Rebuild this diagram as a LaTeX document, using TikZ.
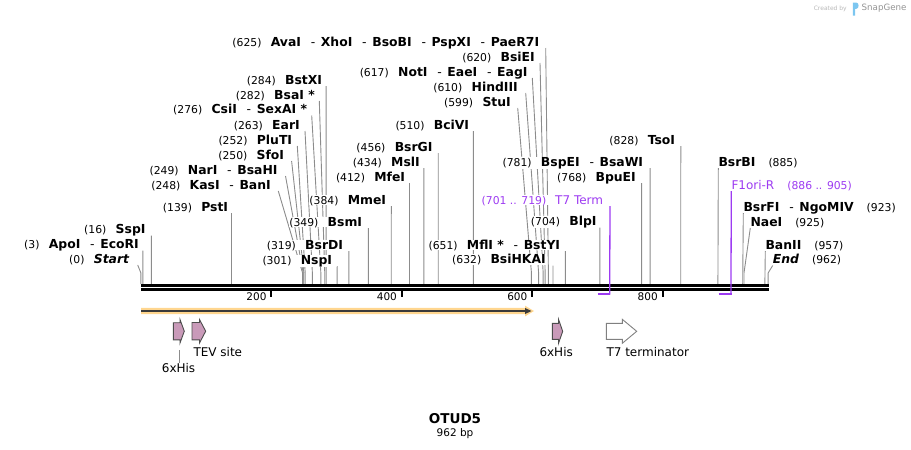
\documentclass[tikz,border=0pt]{standalone}
\usepackage{fontspec}
\setmainfont{DejaVu Sans}
\usetikzlibrary{calc,backgrounds}
\definecolor{LeadGray}{HTML}{8C8C8C}
\definecolor{FeatPink}{HTML}{C99AB9}
\definecolor{FeatEdge}{HTML}{4D4D4D}
\definecolor{TermEdge}{HTML}{808080}
\definecolor{OrfGlow}{HTML}{FFD68F}
\definecolor{OrfDark}{HTML}{3A3A3A}
\definecolor{PrimerPurple}{HTML}{9D3BF2}
\definecolor{LogoBlue}{HTML}{7CC6F0}
\newcommand{\numfont}{\fontsize{10.8}{12}\selectfont}
\newcommand{\enzpos}[1]{{\mdseries\numfont(#1)}\hspace{9.3pt}}% number before the name
\newcommand{\posenz}[1]{\hspace{13pt}{\mdseries\numfont(#1)}}% number after the name
\newcommand{\enzsep}{\hspace{9.8pt}{\mdseries -}\hspace{5.6pt}}
\newcommand{\sitex}[1]{140.9+0.652*#1}% bp -> x
\tikzset{
  enz/.style      = {inner sep=0pt, fill=white, font=\fontsize{12.4}{14}\selectfont\bfseries, anchor=base east},
  enzr/.style     = {enz, anchor=base west},
  lead/.style     = {draw=LeadGray, line width=0.9pt},
  backbone/.style = {draw=black, line width=2.7pt},
  tick/.style     = {draw=black, line width=2pt},
  ticklbl/.style  = {inner sep=0pt, font=\fontsize{10.5}{12}\selectfont, anchor=base east},
  feat/.style     = {draw=FeatEdge, fill=FeatPink, line width=0.9pt},
  term/.style     = {draw=TermEdge, fill=white, line width=0.9pt},
  featlbl/.style  = {inner sep=0pt, font=\fontsize{12}{14}\selectfont, anchor=base west},
  primerv/.style  = {draw=PrimerPurple, line width=1.3pt},
  primerh/.style  = {draw=PrimerPurple, line width=2pt},
}
\begin{document}
\begin{tikzpicture}[x=1pt, y=-1pt]
  \useasboundingbox (0,0) rectangle (911,450);

  % enzimas a la izquierda del corte
  \node[enz] (avai) at (539.3,46) {\enzpos{625}AvaI\enzsep XhoI\enzsep BsoBI\enzsep PspXI\enzsep PaeR7I};
  \node[enz] (bsiei) at (535,61) {\enzpos{620}BsiEI};
  \node[enz] (noti) at (527.7,76) {\enzpos{617}NotI\enzsep EaeI\enzsep EagI};
  \node[enz] (hindiii) at (518,91) {\enzpos{610}HindIII};
  \node[enz] (stui) at (511,106) {\enzpos{599}StuI};
  \node[enz] (bcivi) at (469.3,129) {\enzpos{510}BciVI};
  \node[enz] (bsrgi) at (432.7,151) {\enzpos{456}BsrGI};
  \node[enz] (msli) at (420,166) {\enzpos{434}MslI};
  \node[enz] (mfei) at (405.3,181) {\enzpos{412}MfeI};
  \node[enz] (mmei) at (386.3,204) {\enzpos{384}MmeI};
  \node[enz] (bsmi) at (362.3,226) {\enzpos{349}BsmI};
  \node[enz] (bsrdi) at (343.3,249) {\enzpos{319}BsrDI};
  \node[enz] (nspi) at (332.3,264) {\enzpos{301}NspI};
  \node[enz] (bstxi) at (322.3,84) {\enzpos{284}BstXI};
  \node[enz] (bsai) at (315,99) {\enzpos{282}BsaI *};
  \node[enz] (csii) at (307.3,113.5) {\enzpos{276}CsiI\enzsep SexAI *};
  \node[enz] (eari) at (300,129) {\enzpos{263}EarI};
  \node[enz] (pluti) at (292.3,144) {\enzpos{252}PluTI};
  \node[enz] (sfoi) at (284.3,159) {\enzpos{250}SfoI};
  \node[enz] (nari) at (277.7,174) {\enzpos{249}NarI\enzsep BsaHI};
  \node[enz] (kasi) at (271,189) {\enzpos{248}KasI\enzsep BanI};
  \node[enz] (psti) at (228.3,211) {\enzpos{139}PstI};
  \node[enz] (sspi) at (145.7,233.5) {\enzpos{16}SspI};
  \node[enz] (apoi) at (139,248.5) {\enzpos{3}ApoI\enzsep EcoRI};
  \node[enz] (start) at (129.3,263) {\enzpos{0}{\itshape Start}};
  \node[enz] (mfli) at (560.3,249) {\enzpos{651}MflI *\enzsep BstYI};
  \node[enz] (bsihkai) at (546,263.5) {\enzpos{632}BsiHKAI};
  \node[enz] (bspei) at (643.3,166) {\enzpos{781}BspEI\enzsep BsaWI};
  \node[enz] (bpuei) at (636,181) {\enzpos{768}BpuEI};
  \node[enz] (blpi) at (596.7,225.5) {\enzpos{704}BlpI};
  \node[enz] (tsoi) at (675.3,144) {\enzpos{828}TsoI};
  % enzimas a la derecha del corte
  \node[enzr] (bsrbi) at (718.3,166) {BsrBI\posenz{885}};
  \node[enzr] (bsrfi) at (743.3,211) {BsrFI\enzsep NgoMIV\posenz{923}};
  \node[enzr] (naei) at (750.3,226) {NaeI\posenz{925}};
  \node[enzr] (banii) at (765.3,249) {BanII\posenz{957}};
  \node[enzr] (end) at (772.7,263.5) {{\itshape End}\posenz{962}};
  % cebadores
  \node[enz, font=\fontsize{12}{14}\selectfont, text=PrimerPurple] (t7term) at (603.3,204) {{\numfont(701 .. 719)}\hspace{9pt}T7 Term};
  \node[enzr, font=\fontsize{12}{14}\selectfont, text=PrimerPurple] (f1ori) at (731.3,189) {F1ori-R\posenz{886 .. 905}};

  % lineas de corte (detras de las etiquetas)
  \begin{scope}[on background layer]
  \draw[lead] ([shift={(6.4pt,-2pt)}]avai.base east) -- ({\sitex{625}},273) -- ({\sitex{625}},284);
  \draw[lead] ([shift={(5pt,-2pt)}]bsiei.base east) -- ({\sitex{620}},273) -- ({\sitex{620}},284);
  \draw[lead] ([shift={(4.6pt,-2pt)}]noti.base east) -- ({\sitex{617}},273) -- ({\sitex{617}},284);
  \draw[lead] ([shift={(7.7pt,-2pt)}]hindiii.base east) -- ({\sitex{610}},273) -- ({\sitex{610}},284);
  \draw[lead] ([shift={(6.7pt,-2pt)}]stui.base east) -- ({\sitex{599}},273) -- ({\sitex{599}},284);
  \draw[lead] ([shift={(4.1pt,-2pt)}]bcivi.base east) -- ({\sitex{510}},284);
  \draw[lead] ([shift={(5.5pt,-2pt)}]bsrgi.base east) -- ({\sitex{456}},284);
  \draw[lead] ([shift={(3.9pt,-2pt)}]msli.base east) -- ({\sitex{434}},284);
  \draw[lead] ([shift={(4.2pt,-2pt)}]mfei.base east) -- ({\sitex{412}},284);
  \draw[lead] ([shift={(5pt,-2pt)}]mmei.base east) -- ({\sitex{384}},284);
  \draw[lead] ([shift={(6.1pt,-2pt)}]bsmi.base east) -- ({\sitex{349}},284);
  \draw[lead] ([shift={(5.6pt,-2pt)}]bsrdi.base east) -- ({\sitex{319}},284);
  \draw[lead] ([shift={(4.9pt,-2pt)}]nspi.base east) -- ({\sitex{301}},284);
  \draw[lead] ([shift={(3.8pt,-2pt)}]bstxi.base east) -- ({\sitex{284}},284);
  \draw[lead] ([shift={(4.3pt,-2pt)}]bsai.base east) -- ({\sitex{282}},273) -- ({\sitex{282}},284);
  \draw[lead] ([shift={(4.4pt,-2pt)}]csii.base east) -- ({\sitex{276}},273) -- ({\sitex{276}},284);
  \draw[lead] ([shift={(5pt,-2pt)}]eari.base east) -- ({\sitex{263}},273) -- ({\sitex{263}},284);
  \draw[lead] ([shift={(5pt,-2pt)}]pluti.base east) -- ({\sitex{252}},273) -- ({\sitex{252}},284);
  \draw[lead] ([shift={(7.3pt,-2pt)}]sfoi.base east) -- ({\sitex{250}},273) -- ({\sitex{250}},284);
  \draw[lead] ([shift={(7.8pt,-2pt)}]nari.base east) -- ({\sitex{249}},273) -- ({\sitex{249}},284);
  \draw[lead] ([shift={(7.3pt,-2pt)}]kasi.base east) -- ({\sitex{248}},273) -- ({\sitex{248}},284);
  \draw[lead] ([shift={(3.2pt,-2pt)}]psti.base east) -- ({\sitex{139}},284);
  \draw[lead] ([shift={(5.6pt,-2pt)}]sspi.base east) -- ({\sitex{16}},284);
  \draw[lead] ([shift={(3.9pt,-2pt)}]apoi.base east) -- ({\sitex{3}},284);
  \draw[lead] ([shift={(8.4pt,-2pt)}]start.base east) -- ({\sitex{0}},273) -- ({\sitex{0}},284);
  \draw[lead] ([shift={(5.1pt,-2pt)}]mfli.base east) -- ({\sitex{651}},284);
  \draw[lead] ([shift={(7pt,-2pt)}]bsihkai.base east) -- ({\sitex{632}},284);
  \draw[lead] ([shift={(6.8pt,-2pt)}]bspei.base east) -- ({\sitex{781}},284);
  \draw[lead] ([shift={(5.6pt,-2pt)}]bpuei.base east) -- ({\sitex{768}},284);
  \draw[lead] ([shift={(3.2pt,-2pt)}]blpi.base east) -- ({\sitex{704}},284);
  \draw[lead] ([shift={(5.5pt,-2pt)}]tsoi.base east) -- ({\sitex{828}},284);
  \draw[lead] ([yshift=-2pt]bsrbi.base west) -- ({\sitex{885}},284);
  \draw[lead] ([yshift=-2pt]bsrfi.base west) -- ({\sitex{923}},284);
  \draw[lead] ([yshift=-2pt]naei.base west) -- ({\sitex{925}},273) -- ({\sitex{925}},284);
  \draw[lead] ([yshift=-2pt]banii.base west) -- ({\sitex{957}},284);
  \draw[lead] ([yshift=-2pt]end.base west) -- ({\sitex{962}},273) -- ({\sitex{962}},284);
  \end{scope}

  % esqueleto y escala
  \draw[backbone] (141,285.3) -- (769,285.3);
  \draw[backbone] (141,289.3) -- (769,289.3);
  \foreach \t in {200,400,600,800} {
    \draw[tick] ({\sitex{\t}},289) -- ({\sitex{\t}},296.7);
    \node[ticklbl] (tick\t) at ({\sitex{\t}-4.6},300.7) {\t};
  }

  % marcas de cebadores
  \draw[primerv] ([shift={(6.7pt,-2pt)}]t7term.base east) -- ({\sitex{719}},294.6);
  \draw[primerh] ({\sitex{701}},293.7) -- ({\sitex{719}+0.6},293.7);
  \draw[primerv] ([yshift=-2pt]f1ori.base west) -- ({\sitex{905}},294.6);
  \draw[primerh] ({\sitex{886}},293.7) -- ({\sitex{905}+0.6},293.7);

  % ORF
  \fill[OrfGlow] (141,307.8) -- (525,307.8) -- (525,305.6) -- (534,311) -- (525,316.4) -- (525,314.2) -- (141,314.2) -- cycle;
  \draw[OrfDark, line width=1.5pt] (141,311) -- (527,311);
  \fill[OrfDark] (525,308) -- (531.5,311) -- (525,314) -- cycle;

  % elementos
  \draw[feat] (173.3,322.7) -- (180,322.7) -- (180,319.5) -- (184.3,331.2) -- (180,343) -- (180,339.8) -- (173.3,339.8) -- cycle;
  \draw[feat] (192,322.5) -- (199.5,322.5) -- (199.5,319.5) -- (205.7,331.2) -- (199.5,343) -- (199.5,339.8) -- (192,339.8) -- cycle;
  \draw[feat] (552.3,323.3) -- (558.5,323.3) -- (558.5,319.3) -- (562.7,331.3) -- (558.5,343.3) -- (558.5,339.3) -- (552.3,339.3) -- cycle;
  \draw[term] (606.3,323.3) -- (622.3,323.3) -- (622.3,319.3) -- (636.7,331.3) -- (622.3,343.3) -- (622.3,339.3) -- (606.3,339.3) -- cycle;
  \node[featlbl] (his1lbl) at (161.7,372) {6xHis};
  \node[featlbl] (tevlbl) at (193.3,356.7) {TEV site};
  \node[featlbl] (his2lbl) at (539.3,356) {6xHis};
  \node[featlbl] (t7lbl) at (606.3,356) {T7 terminator};
  \coordinate (his1foot) at (179.3,350);
  \draw[lead] (his1foot) -- (his1foot |- his1lbl.north);

  % titulo
  \node[inner sep=0pt, anchor=base, font=\fontsize{13.5}{15}\selectfont\bfseries] (title) at (455,423.3) {OTUD5};
  \node[inner sep=0pt, anchor=base, font=\fontsize{10.5}{12}\selectfont] (len) at (455,436.5) {962 bp};

  % marca
  \node[inner sep=0pt, anchor=base east, font=\fontsize{6}{7}\selectfont, text=black!28] (credit) at (847,10) {Created by};
  \fill[LogoBlue] (852.8,2.5) -- (856.3,2.5) .. controls (859.3,2.5) and (859.3,8.8) .. (856.3,8.8) -- (855.2,8.8) -- (855.2,15.5) -- (852.8,15.5) -- cycle;
  \node[inner sep=0pt, anchor=base west, font=\fontsize{8.7}{10}\selectfont, text=black!42] (snapgene) at (861.5,10.7) {SnapGene};
\end{tikzpicture}
\end{document}
